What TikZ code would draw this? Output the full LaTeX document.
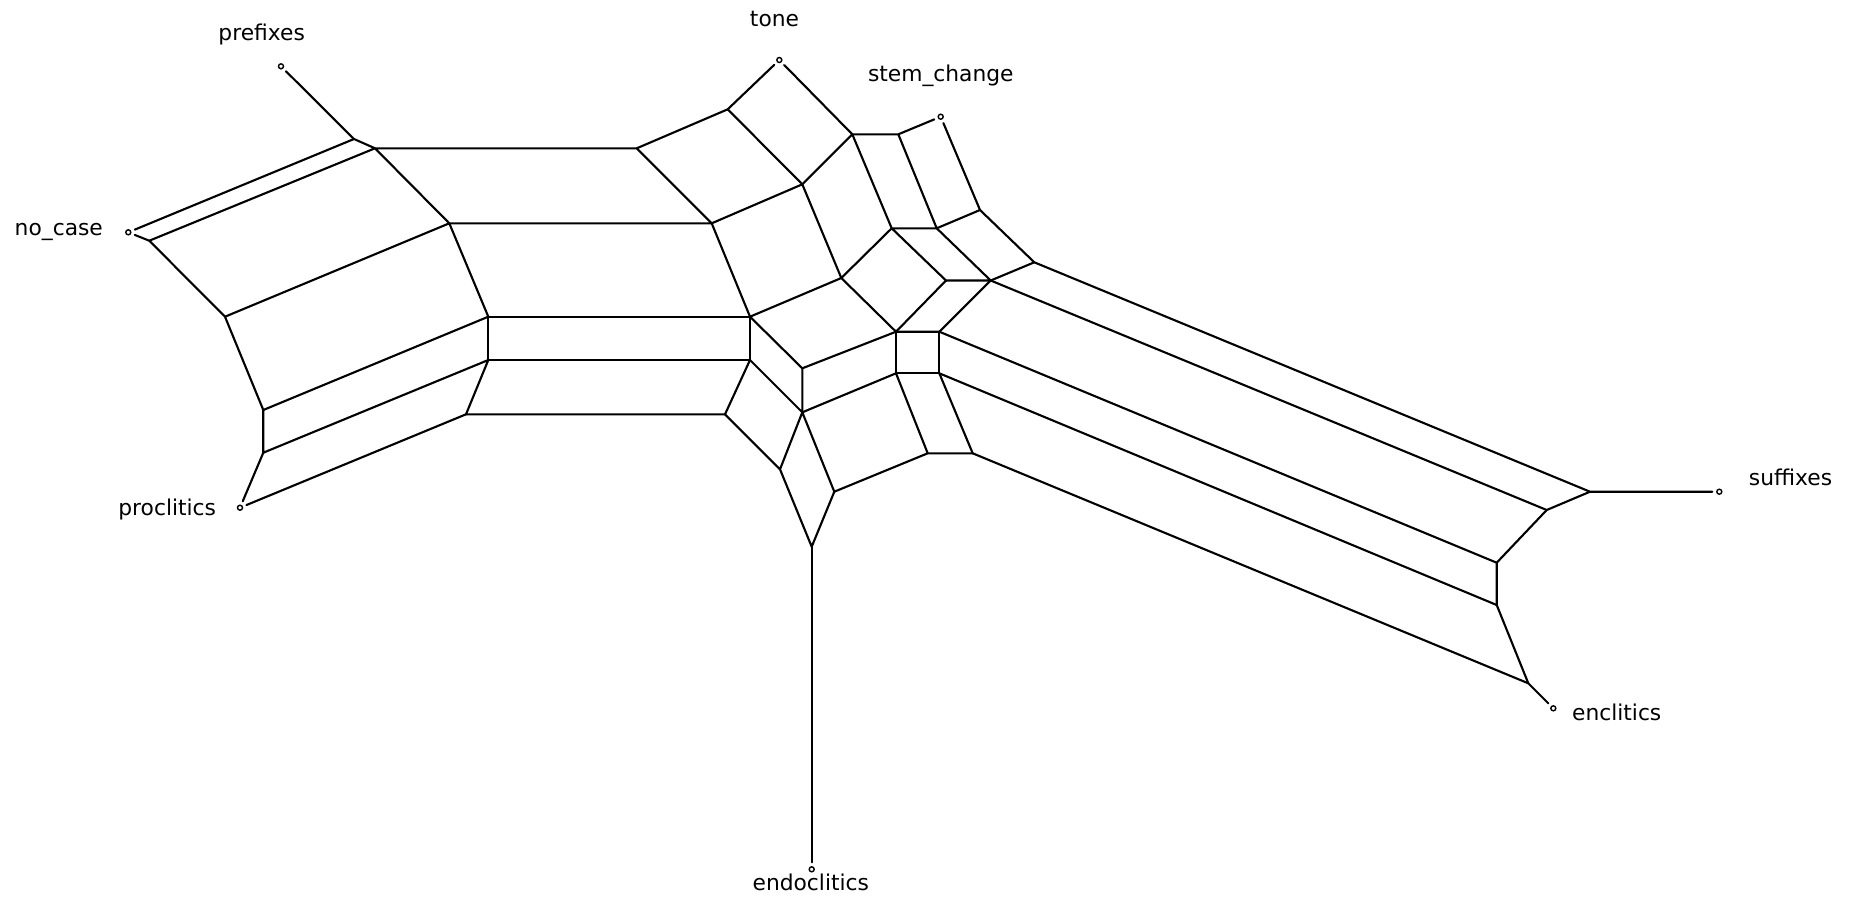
\documentclass[tikz,border=0pt]{standalone}
\usepackage{fontspec}
\setmainfont{DejaVu Sans}
\usetikzlibrary{calc,positioning}
\tikzstyle{split} = [line width=1.2pt, line cap=round, line join=round]
\tikzset{
    leaf/.style = {draw, circle, line width=0.8pt, fill=white, inner sep=0pt, minimum size=0.1cm, outer sep=0.09cm},
    taxon/.style = {anchor=base, inner sep=0pt, font=\fontsize{12.4}{15}\selectfont},
}

\begin{document}
\begin{tikzpicture}[x=0.02cm, y=-0.02cm]
    \useasboundingbox (0,0) rectangle (1852,897);

    \node [leaf] (pre) at (281,66.3) {};
    \node [leaf] (nocase) at (128.3,232.3) {};
    \node [leaf] (procl) at (240,507.7) {};
    \node [leaf] (endocl) at (811.7,869.3) {};
    \node [leaf] (encl) at (1553.3,708.3) {};
    \node [leaf] (suff) at (1719.3,491.7) {};
    \node [leaf] (stemch) at (940.7,116.7) {};
    \node [leaf] (tone) at (779.3,60) {};

    \node [taxon] (prefixes) at (261.7,40.7) {prefixes};
    \node [taxon] (no_case) at (58.8,235) {no\_case};
    \node [taxon] (proclitics) at (167.2,515) {proclitics};
    \node [taxon] (endoclitics) at (810.8,890) {endoclitics};
    \node [taxon] (enclitics) at (1616.7,720) {enclitics};
    \node [taxon] (suffixes) at (1790.5,485) {suffixes};
    \node [taxon] (stem_change) at (940.8,81.7) {stem\_change};
    \node [taxon] (tonelbl) at (774.5,26) {tone};

    \coordinate (a1) at (354,139);
    \coordinate (a2) at (375,148.3);
    \coordinate (a3) at (149.3,240.7);
    \coordinate (a4) at (449.3,223.3);
    \coordinate (a5) at (225,316.7);
    \coordinate (a6) at (488.3,316.7);
    \coordinate (a7) at (263.3,410);
    \coordinate (a8) at (488.3,360);
    \coordinate (a9) at (263.3,452.7);
    \coordinate (a10) at (466,414.3);

    \coordinate (b1) at (636.7,148.3);
    \coordinate (b2) at (727.7,109.3);
    \coordinate (b3) at (711.7,223.3);
    \coordinate (b4) at (802.3,184.3);
    \coordinate (b5) at (852.3,134.3);
    \coordinate (b6) at (750,316.7);
    \coordinate (b7) at (841.3,278);
    \coordinate (b8) at (750,360);
    \coordinate (b9) at (725,414.3);
    \coordinate (b10) at (891.7,228.3);
    \coordinate (b11) at (898.3,134.3);
    \coordinate (b12) at (936.7,228.3);
    \coordinate (b13) at (980,210);
    \coordinate (b14) at (946,280.5);
    \coordinate (b15) at (990.7,280.5);
    \coordinate (b16) at (1034.3,262.3);

    \coordinate (c1) at (802.3,368.3);
    \coordinate (c2) at (802.3,412.3);
    \coordinate (c3) at (896,331.7);
    \coordinate (c4) at (939.3,331.7);
    \coordinate (c5) at (896,373.3);
    \coordinate (c6) at (939.3,373.3);
    \coordinate (c7) at (780,469.3);
    \coordinate (c8) at (834.3,491.7);
    \coordinate (c9) at (811.7,546.7);
    \coordinate (c10) at (927.7,453.3);
    \coordinate (c11) at (972.7,453.3);

    \coordinate (d1) at (1590,491.7);
    \coordinate (d2) at (1546.7,510);
    \coordinate (d3) at (1496.7,562.7);
    \coordinate (d4) at (1496.7,605);
    \coordinate (d5) at (1528.3,683.3);

    \draw [split] (pre) -- (a1);
    \draw [split] (nocase) -- (a1) -- (a2) -- (a3) -- (nocase);
    \draw [split] (a2) -- (b1) -- (b3) -- (a4) -- (a2);
    \draw [split] (a3) -- (a5) -- (a4) -- (a6) -- (a7) -- (a5);
    \draw [split] (a6) -- (b6) -- (b8) -- (a8) -- (a6);
    \draw [split] (a7) -- (a9) -- (a8) -- (a10) -- (b9) -- (b8);
    \draw [split] (a9) -- (procl) -- (a10);
    \draw [split] (b1) -- (b2) -- (b4) -- (b3) -- (b6) -- (b7) -- (b4);
    \draw [split] (b2) -- (tone) -- (b5) -- (b4);
    \draw [split] (b5) -- (b11) -- (stemch) -- (b13) -- (b12) -- (b11);
    \draw [split] (b5) -- (b10) -- (b12) -- (b15) -- (b14) -- (b10) -- (b7);
    \draw [split] (b13) -- (b16) -- (b15);
    \draw [split] (b7) -- (c3) -- (b14);
    \draw [split] (b6) -- (c1) -- (c3) -- (c4) -- (b15);
    \draw [split] (c3) -- (c5) -- (c6) -- (c4);
    \draw [split] (b8) -- (c2) -- (c1);
    \draw [split] (c2) -- (c5);
    \draw [split] (b9) -- (c7) -- (c2) -- (c8) -- (c9) -- (c7);
    \draw [split] (c9) -- (endocl);
    \draw [split] (c8) -- (c10) -- (c5);
    \draw [split] (c10) -- (c11) -- (c6);
    \draw [split] (b16) -- (d1) -- (suff);
    \draw [split] (b15) -- (d2);
    \draw [split] (c4) -- (d3);
    \draw [split] (c6) -- (d4);
    \draw [split] (c11) -- (d5) -- (encl);
    \draw [split] (d1) -- (d2) -- (d3) -- (d4) -- (d5);
\end{tikzpicture}
\end{document}
